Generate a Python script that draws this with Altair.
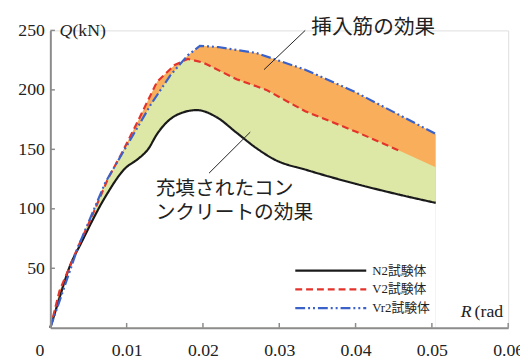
import altair as alt
import pandas as pd

# ---- data (R in rad, Q in kN) ----
n2_r = [0, 0.0012, 0.00245, 0.0041, 0.0072, 0.0098, 0.0115, 0.0128, 0.014, 0.0166, 0.0192, 0.0218, 0.0244, 0.027, 0.0295, 0.0334, 0.040, 0.045, 0.0505]
n2_q = [0, 25, 50, 72, 110, 134, 142, 150, 163, 179, 183, 177, 164, 151, 141, 133, 121, 113, 105]

v2_r = [0, 0.0012, 0.0037, 0.0054, 0.0076, 0.0093, 0.0115, 0.014, 0.0163, 0.018, 0.020, 0.0244, 0.0283, 0.0334, 0.040, 0.0457]
v2_q = [0, 31, 69, 93, 126, 146, 174, 207, 221, 226, 223, 209, 200, 182, 165, 149]

vr2_r = [0, 0.0037, 0.0072, 0.0102, 0.0132, 0.0157, 0.018, 0.0196, 0.022, 0.027, 0.0334, 0.040, 0.046, 0.0505]
vr2_q = [0, 69, 122, 155, 188, 212, 229, 237, 236, 231, 217, 198, 178, 163]

# upper edge of the green band (boundary between green and orange fills)
band_r = [0, 0.0037, 0.0072, 0.0102, 0.0132, 0.0157, 0.0175, 0.018, 0.020, 0.0244, 0.0283, 0.0334, 0.040, 0.0457, 0.0505]
band_q = [0, 69, 122, 155, 188, 212, 225, 226, 223, 209, 200, 182, 165, 149, 135]

series_names = ["N2試験体", "V2試験体", "Vr2試験体"]
series_colors = ["#1a1a1a", "#e3332b", "#3b62c9"]
series_dashes = [[1, 0], [7, 4], [10, 3, 2, 3, 2, 3]]

x_ticks = [0, 0.01, 0.02, 0.03, 0.04, 0.05, 0.06]
y_ticks = [50, 100, 150, 200, 250]

annot_lines = ["充填されたコン", "ンクリートの効果"]

SERIF = "Liberation Serif, Times New Roman, Noto Sans CJK JP"
CJK = "Noto Sans CJK JP"

def df(r, q, name):
    return pd.DataFrame({"R": r, "Q": q, "s": name})

n2 = df(n2_r, n2_q, series_names[0])
v2 = df(v2_r, v2_q, series_names[1])
vr2 = df(vr2_r, vr2_q, series_names[2])
band = df(band_r, band_q, "band")

xs = alt.Scale(domain=[0, 0.06], nice=False)
ys = alt.Scale(domain=[0, 250], nice=False)

xaxis = alt.Axis(values=x_ticks, title=None, ticks=False, grid=False, labelFlush=False,
                 domainColor="#8c8c8c", domainWidth=2, labelFont=SERIF, labelFontSize=18,
                 labelColor="#222", labelPadding=14,
                 labelExpr="datum.value == 0 ? '0' : format(datum.value, '.2f')",
                 labelOffset=alt.condition("datum.value == 0", alt.value(-11), alt.value(0)),
                 zindex=1)
yaxis = alt.Axis(values=y_ticks, title=None, ticks=False, grid=False, labelFlush=False,
                 domainColor="#8c8c8c", domainWidth=2, labelFont=SERIF, labelFontSize=18,
                 labelColor="#222", labelPadding=6, zindex=1)

X = alt.X("R:Q", scale=xs, axis=xaxis)
Y = alt.Y("Q:Q", scale=ys, axis=yaxis)

orange = "#f9ae5c"
green = "#dde7a6"

fill_vr2 = alt.Chart(vr2).mark_area(color=orange, opacity=1).encode(x=X, y=Y)
fill_v2 = alt.Chart(v2).mark_area(color=orange, opacity=1).encode(x="R:Q", y="Q:Q")
fill_band = alt.Chart(band).mark_area(color=green, opacity=1).encode(x="R:Q", y="Q:Q")
fill_n2 = alt.Chart(n2).mark_area(color="white", opacity=1, interpolate="monotone").encode(x="R:Q", y="Q:Q")

color_scale = alt.Scale(domain=series_names, range=series_colors)
dash_scale = alt.Scale(domain=series_names, range=series_dashes)

def line(d, interp):
    return alt.Chart(d).mark_line(strokeWidth=2.2, interpolate=interp).encode(
        x="R:Q", y="Q:Q",
        color=alt.Color("s:N", scale=color_scale, legend=None),
        strokeDash=alt.StrokeDash("s:N", scale=dash_scale, legend=None),
    )

lines = line(n2, "monotone") + line(v2, "linear") + line(vr2, "linear")

# inward tick marks
xt = pd.DataFrame({"R": x_ticks[1:], "Q": 0, "Q2": 4})
yt = pd.DataFrame({"R": 0, "R2": 0.0006, "Q": y_ticks})
xtick_rules = alt.Chart(xt).mark_rule(color="#8c8c8c", strokeWidth=1.5).encode(x="R:Q", y="Q:Q", y2="Q2:Q")
ytick_rules = alt.Chart(yt).mark_rule(color="#8c8c8c", strokeWidth=1.5).encode(x="R:Q", x2="R2:Q", y="Q:Q")

# leader lines for the annotations
lead = pd.DataFrame({"R": [0.028, 0.0208], "Q": [217, 130], "R2": [0.0334, 0.0262], "Q2": [250, 164.5]})
leaders = alt.Chart(lead).mark_rule(color="#222", strokeWidth=1).encode(x="R:Q", y="Q:Q", x2="R2:Q", y2="Q2:Q")

ann1 = alt.Chart(pd.DataFrame({"R": [0.0342], "Q": [252], "t": ["挿入筋の効果"]})).mark_text(
    align="left", baseline="middle", font=CJK, fontSize=21, color="#222").encode(x="R:Q", y="Q:Q", text="t:N")
ann2 = alt.Chart(pd.DataFrame({"R": [0.0138, 0.0138], "Q": [116.5, 96.5], "t": annot_lines})).mark_text(
    align="left", baseline="middle", font=CJK, fontSize=20, color="#222").encode(x="R:Q", y="Q:Q", text="t:N")

# axis titles
qt = alt.Chart(pd.DataFrame({"R": [0.0012], "Q": [249.6], "t": ["Q"]})).mark_text(
    align="left", baseline="middle", font=SERIF, fontSize=18, fontStyle="italic", color="#222").encode(x="R:Q", y="Q:Q", text="t:N")
qu = alt.Chart(pd.DataFrame({"R": [0.0029], "Q": [249.6], "t": ["(kN)"]})).mark_text(
    align="left", baseline="middle", font=SERIF, fontSize=18, color="#222").encode(x="R:Q", y="Q:Q", text="t:N")
rt = alt.Chart(pd.DataFrame({"R": [0.0538], "Q": [13], "t": ["R"]})).mark_text(
    align="left", baseline="middle", font=SERIF, fontSize=18, fontStyle="italic", color="#222").encode(x="R:Q", y="Q:Q", text="t:N")
ru = alt.Chart(pd.DataFrame({"R": [0.0556], "Q": [13], "t": ["(rad"]})).mark_text(
    align="left", baseline="middle", font=SERIF, fontSize=18, color="#222").encode(x="R:Q", y="Q:Q", text="t:N")

# legend drawn in data space
leg = pd.DataFrame({"s": series_names, "R": 0.0321, "R2": 0.0414, "Q": [48, 32.2, 16.5], "RT": 0.0422})
leg_lines = alt.Chart(leg).mark_rule(strokeWidth=2.2).encode(
    x="R:Q", x2="R2:Q", y="Q:Q",
    color=alt.Color("s:N", scale=color_scale, legend=None),
    strokeDash=alt.StrokeDash("s:N", scale=dash_scale, legend=None),
)
leg_text = alt.Chart(leg).mark_text(align="left", baseline="middle", font=SERIF, fontSize=13, color="#222").encode(
    x="RT:Q", y="Q:Q", text="s:N")

chart = alt.layer(
    fill_vr2, fill_v2, fill_band, fill_n2, lines,
    xtick_rules, ytick_rules, leaders, ann1, ann2, qt, qu, rt, ru, leg_lines, leg_text,
).properties(
    width=465, height=302,
    autosize=alt.AutoSizeParams(type="none"),
    padding={"left": 43, "top": 20, "right": 12, "bottom": 30},
).configure_view(stroke=None).configure(background="white")

chart.save("out.html", embed_options={"renderer": "svg", "actions": False})
